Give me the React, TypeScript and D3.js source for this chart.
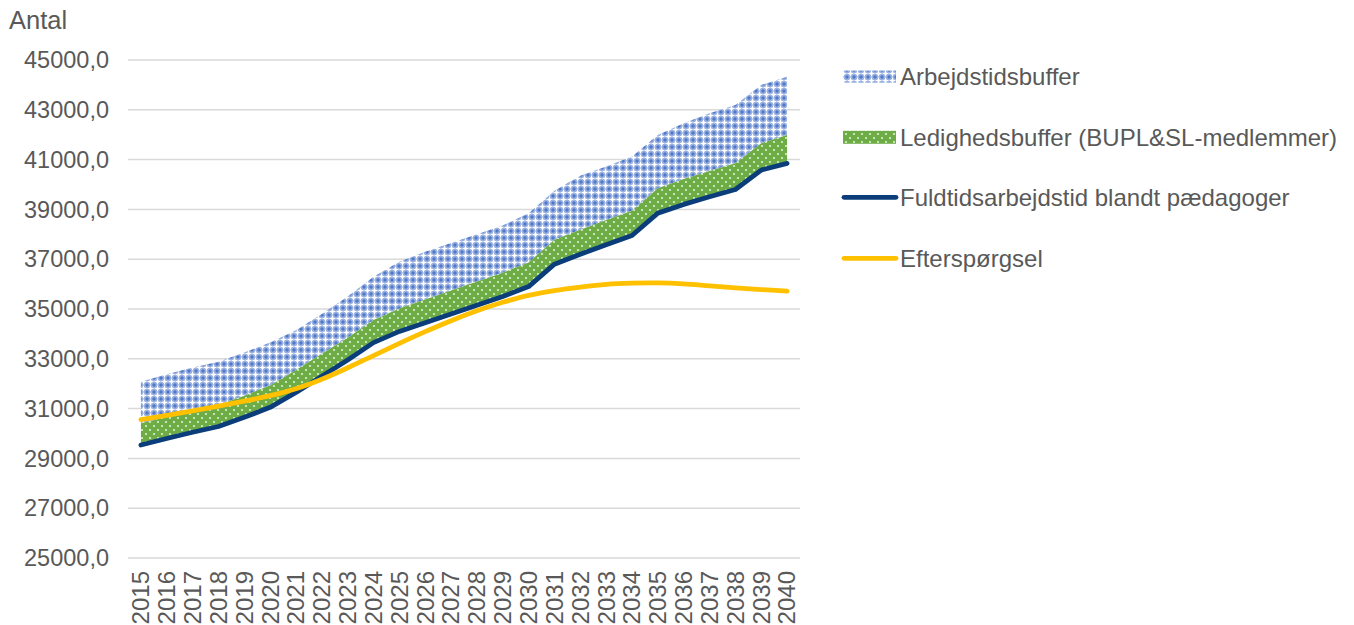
import React, { useEffect, useRef } from 'react'
import * as d3 from 'd3'

// values
const years = ['2015', '2016', '2017', '2018', '2019', '2020', '2021', '2022', '2023', '2024', '2025', '2026', '2027',
  '2028', '2029', '2030', '2031', '2032', '2033', '2034', '2035', '2036', '2037', '2038', '2039', '2040']

const fuldtid = [29540, 29800, 30050, 30280, 30650, 31050, 31650, 32300, 32950, 33650, 34100, 34450, 34800,
  35150, 35500, 35900, 36800, 37200, 37580, 37950, 38850, 39200, 39510, 39800, 40580, 40850]

const ledighedsbuffer = [870, 860, 860, 860, 870, 880, 900, 900, 900, 910, 920, 930, 940,
  950, 960, 970, 980, 985, 990, 995, 1000, 1020, 1035, 1050, 1080, 1140]

const arbejdstidsbuffer = [1670, 1720, 1740, 1745, 1730, 1720, 1600, 1600, 1650, 1740, 1880, 1920, 1910,
  1900, 1890, 1980, 1970, 2165, 2150, 2175, 2140, 2240, 2315, 2340, 2340, 2340]

const efterspoergsel = [30560, 30730, 30910, 31100, 31300, 31520, 31800, 32180, 32640, 33130, 33620, 34090, 34530,
  34930, 35270, 35550, 35740, 35880, 35990, 36040, 36050, 36010, 35930, 35850, 35780, 35720]

const yTicks = [25000, 27000, 29000, 31000, 33000, 35000, 37000, 39000, 41000, 43000, 45000]

const legendLabels = ['Arbejdstidsbuffer', 'Ledighedsbuffer (BUPL&SL-medlemmer)', 'Fuldtidsarbejdstid blandt pædagoger', 'Efterspørgsel']

const textColor = '#595959'
const font = '"Liberation Sans", Arial, sans-serif'

export default function App() {
  const ref = useRef<SVGSVGElement>(null)

  useEffect(() => {
    const svg = d3.select(ref.current)
    svg.selectAll('*').remove()

    const x = d3.scaleBand().domain(years).range([128, 800])
    const cx = (d: string) => (x(d) as number) + x.bandwidth() / 2
    const y = d3.scaleLinear().domain([25000, 45000]).range([558, 60])

    const defs = svg.append('defs')
    const blue = defs.append('pattern').attr('id', 'pBlue').attr('patternUnits', 'userSpaceOnUse')
      .attr('width', 7).attr('height', 7)
    blue.append('rect').attr('width', 7).attr('height', 7).attr('fill', '#9cb3e2')
    ;[[0, 0], [7, 0], [0, 7], [7, 7]].forEach(([px, py]) => {
      blue.append('circle').attr('cx', px).attr('cy', py).attr('r', 1.7).attr('fill', '#4f78c8')
    })
    blue.append('rect').attr('x', 3).attr('y', 0.6).attr('width', 1).attr('height', 5.8).attr('fill', '#ffffff')
    blue.append('rect').attr('x', 0.6).attr('y', 3).attr('width', 5.8).attr('height', 1).attr('fill', '#ffffff')
    blue.append('circle').attr('cx', 3.5).attr('cy', 3.5).attr('r', 1.6).attr('fill', '#ffffff')

    const green = defs.append('pattern').attr('id', 'pGreen').attr('patternUnits', 'userSpaceOnUse')
      .attr('width', 8).attr('height', 8)
    green.append('rect').attr('width', 8).attr('height', 8).attr('fill', '#6ead46')
    green.append('circle').attr('cx', 2).attr('cy', 2).attr('r', 1.1).attr('fill', '#dcefd2')
    green.append('circle').attr('cx', 6).attr('cy', 6).attr('r', 1.1).attr('fill', '#dcefd2')

    // gridlines
    svg.append('g').selectAll('line').data(yTicks).enter().append('line')
      .attr('x1', 128).attr('x2', 800)
      .attr('y1', d => y(d)).attr('y2', d => y(d))
      .attr('stroke', '#d9d9d9').attr('stroke-width', 1.5)

    // y labels
    svg.append('g').selectAll('text').data(yTicks).enter().append('text')
      .attr('x', 109).attr('y', d => y(d)).attr('dy', '0.35em')
      .attr('text-anchor', 'end')
      .attr('font-family', font).attr('font-size', 23.5).attr('fill', textColor)
      .text(d => d3.format('.1f')(d).replace('.', ','))

    svg.append('text').attr('x', 9).attr('y', 29)
      .attr('font-family', font).attr('font-size', 25.5).attr('fill', textColor)
      .text('Antal')

    // x labels
    svg.append('g').selectAll('text').data(years).enter().append('text')
      .attr('transform', d => `translate(${cx(d)},571) rotate(-90)`)
      .attr('dy', '0.35em').attr('text-anchor', 'end')
      .attr('font-family', font).attr('font-size', 24).attr('fill', textColor)
      .text(d => d)

    const rows = years.map((yr, i) => ({
      yr,
      base: fuldtid[i],
      led: fuldtid[i] + ledighedsbuffer[i],
      top: fuldtid[i] + ledighedsbuffer[i] + arbejdstidsbuffer[i],
      eft: efterspoergsel[i],
    }))

    const areaBlue = d3.area<any>().x(d => cx(d.yr)).y0(d => y(d.led)).y1(d => y(d.top))
    const areaGreen = d3.area<any>().x(d => cx(d.yr)).y0(d => y(d.base)).y1(d => y(d.led))
    svg.append('path').datum(rows).attr('d', areaBlue).attr('fill', 'url(#pBlue)')
    svg.append('path').datum(rows).attr('d', areaGreen).attr('fill', 'url(#pGreen)')

    const lineDark = d3.line<any>().x(d => cx(d.yr)).y(d => y(d.base))
    const lineYellow = d3.line<any>().x(d => cx(d.yr)).y(d => y(d.eft)).curve(d3.curveCatmullRom.alpha(0.5))
    svg.append('path').datum(rows).attr('d', lineDark).attr('fill', 'none')
      .attr('stroke', '#0a3d7a').attr('stroke-width', 4.8).attr('stroke-linecap', 'round').attr('stroke-linejoin', 'round')
    svg.append('path').datum(rows).attr('d', lineYellow).attr('fill', 'none')
      .attr('stroke', '#ffc000').attr('stroke-width', 4.8).attr('stroke-linecap', 'round')

    // legend
    const centers = [76.6, 137.3, 197.3, 258.3]
    const leg = svg.append('g')
    leg.append('rect').attr('x', 843).attr('y', centers[0] - 6).attr('width', 53).attr('height', 12).attr('fill', 'url(#pBlue)')
    leg.append('rect').attr('x', 843).attr('y', centers[1] - 6.5).attr('width', 53).attr('height', 13).attr('fill', 'url(#pGreen)')
    leg.append('line').attr('x1', 844).attr('x2', 896).attr('y1', centers[2]).attr('y2', centers[2])
      .attr('stroke', '#0a3d7a').attr('stroke-width', 4.8).attr('stroke-linecap', 'round')
    leg.append('line').attr('x1', 844).attr('x2', 896).attr('y1', centers[3]).attr('y2', centers[3])
      .attr('stroke', '#ffc000').attr('stroke-width', 4.8).attr('stroke-linecap', 'round')
    leg.selectAll('text').data(legendLabels).enter().append('text')
      .attr('x', 900).attr('y', (d, i) => centers[i]).attr('dy', '0.35em')
      .attr('font-family', font).attr('font-size', 24).attr('fill', textColor)
      .text(d => d)
  }, [])

  return (
    <div style={{ position: 'fixed', left: 0, top: 0 }}>
      <svg ref={ref} width={1354} height={625} style={{ display: 'block', background: '#fff' }} />
    </div>
  )
}
